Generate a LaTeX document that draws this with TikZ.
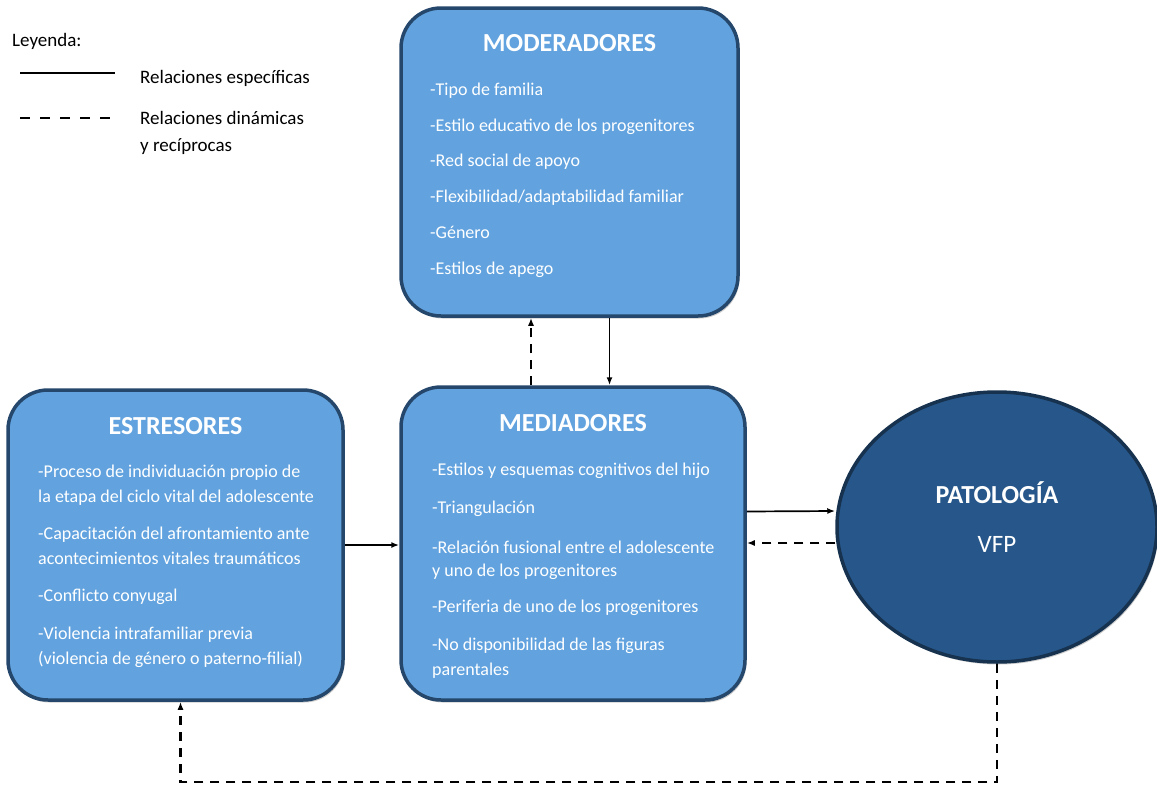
\documentclass[tikz,border=0pt]{standalone}
\usepackage{fontspec}
\setmainfont{Carlito}
\usepackage{xcolor}
\definecolor{boxfill}{HTML}{62A3DF}
\definecolor{boxedge}{HTML}{24476B}
\definecolor{ellfill}{HTML}{27578A}
\definecolor{elledge}{HTML}{17324F}
\usetikzlibrary{
    arrows.meta,
    shapes.geometric,
    shadows,
    positioning,
}
\tikzset{
    boxnode/.style={
            draw=boxedge,
            line width=3.5pt,
            fill=boxfill,
            rounded corners=40pt,
            drop shadow={opacity=0.4,shadow xshift=1.5pt,shadow yshift=-2.5pt},
        }
}
\tikzset{
    titlenode/.style={
            text=white,
            font=\bfseries\fontsize{26}{30}\selectfont,
            inner sep=0pt,
        }
}
\tikzset{
    itemnode/.style={
            text=white,
            font=\fontsize{18}{21}\selectfont,
            anchor=base west,
            inner sep=0pt,
        }
}
\tikzset{
    legendnode/.style={
            font=\fontsize{19}{22}\selectfont,
            anchor=base west,
            inner sep=0pt,
        }
}
\tikzset{
    spec/.style={line width=1.7pt},
    dyn/.style={line width=2pt, dash pattern=on 9pt off 7pt},
}

\begin{document}
\begin{tikzpicture}[x=1pt, y=-1pt, >={Latex[length=8pt,width=6pt]}]
    \useasboundingbox (0,0) rectangle (1157,790);

    % boxes
    \node[
        boxnode,
        minimum width=337,
        minimum height=308,
    ] (MO) at (569.5,162) {};
    \node[
        boxnode,
        minimum width=335,
        minimum height=310,
    ] (ES) at (175.5,545) {};
    \node[
        boxnode,
        minimum width=344,
        minimum height=313,
    ] (ME) at (573,543.5) {};
    \node[
        ellipse,
        draw=elledge,
        line width=3.5pt,
        fill=ellfill,
        minimum width=320,
        minimum height=270,
        drop shadow={opacity=0.4,shadow xshift=1.5pt,shadow yshift=-2.5pt},
    ] (PA) at (997,527) {};

    % titles
    \node[titlenode] (MO-t) at ([yshift=-37]MO.north) {MODERADORES};
    \node[titlenode] (ES-t) at ([yshift=-38]ES.north) {ESTRESORES};
    \node[titlenode] (ME-t) at ([yshift=-38]ME.north) {MEDIADORES};
    \node[titlenode] (PA-t) at ([yshift=34]PA.center) {PATOLOGÍA};
    \node[
        titlenode,
        font=\fontsize{25}{29}\selectfont,
    ] (PA-v) at ([yshift=-17]PA.center) {VFP};

    % moderadores
    \foreach \y/\t [count=\i] in {
            95/{-Tipo de familia},
            131/{-Estilo educativo de los progenitores},
            166/{-Red social de apoyo},
            202/{-Flexibilidad/adaptabilidad familiar},
            238/{-Género},
            274/{-Estilos de apego}
        }
        {
            \node[itemnode] (MO-\i) at (430,\y) {\t};
        }

    % estresores
    \foreach \y/\t [count=\i] in {
            477/{-Proceso de individuación propio de},
            502/{la etapa del ciclo vital del adolescente},
            539/{-Capacitación del afrontamiento ante},
            564/{acontecimientos vitales traumáticos},
            601/{-Conflicto conyugal},
            639/{-Violencia intrafamiliar previa},
            664/{(violencia de género o paterno-filial)}
        }
        {
            \node[itemnode] (ES-\i) at (38,\y) {\t};
        }

    % mediadores
    \foreach \y/\t [count=\i] in {
            475/{-Estilos y esquemas cognitivos del hijo},
            513/{-Triangulación},
            553/{-Relación fusional entre el adolescente},
            576/{y uno de los progenitores},
            612/{-Periferia de uno de los progenitores},
            650/{-No disponibilidad de las figuras},
            675/{parentales}
        }
        {
            \node[itemnode] (ME-\i) at (432,\y) {\t};
        }

    % estresores -> mediadores
    \draw[spec,->] (ES.east) -- (ES.east -| ME.west);

    % mediadores <-> moderadores
    \draw[dyn,->] ([xshift=-42]ME.north) -- ([xshift=-42]ME.north |- MO.south);
    \draw[spec,->] ([xshift=40]MO.south) -- ([xshift=40]MO.south |- ME.north);

    % mediadores <-> patologia
    \draw[spec,->] ([yshift=32]ME.east) -- ([yshift=16]PA.west);
    \draw[dyn,->] ([yshift=-16]PA.west) -- ([yshift=-16]PA.west -| ME.east);

    % patologia -> estresores
    \coordinate (L) at (997,782);
    \draw[
        dyn,
        line width=2.6pt,
        ->,
    ] (PA.south) -- (PA.south |- L) -| ([xshift=5]ES.south);

    % legend
    \node[legendnode] (LG) at (12,46) {Leyenda:};
    \draw[spec,line width=2pt] (20,73) -- (115,73);
    \node[legendnode] (LG-1) at (140,83) {Relaciones específicas};
    \draw[dyn,line width=2.6pt,dash pattern=on 10pt off 10pt] (20,118) -- (115,118);
    \node[legendnode] (LG-2) at (140,124) {Relaciones dinámicas};
    \node[legendnode] (LG-3) at (140,151) {y recíprocas};
\end{tikzpicture}
\end{document}
